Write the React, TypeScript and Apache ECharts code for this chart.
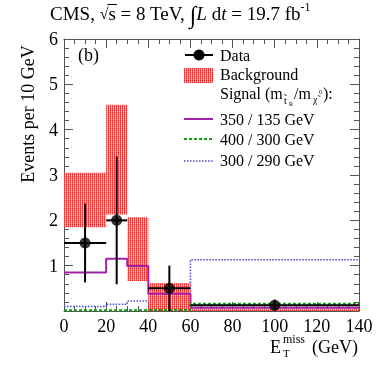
import React, { useEffect, useRef } from "react";
import * as echarts from "echarts";

// Bin edges (GeV) and per-bin values (events per 10 GeV)
const edges = [0, 20, 30, 40, 60, 140];
const bgLow = [1.85, 2.13, 0.66, 0.0, 0.0];
const bgHigh = [3.05, 4.55, 2.07, 0.62, 0.05];
const sig350 = [0.85, 1.15, 0.99, 0.38, 0.07];
const sig400 = [0.015, 0.015, 0.02, 0.025, 0.16];
const sig300 = [0.1, 0.15, 0.22, 0.22, 1.13];

// Data points
const dataX = [10, 25, 50, 100];
const dataY = [1.5, 2.0, 0.5, 0.125];
const dataErr = [0.87, 1.41, 0.5, 0.125];
const dataXLo = [0, 20, 40, 60];
const dataXHi = [20, 30, 60, 140];

const xTicks = { min: 0, max: 140, interval: 20 };
const yTicks = { min: 0, max: 6, interval: 1 };

const FONT = '"Liberation Serif", "DejaVu Serif", serif';

const hatchSvg =
  '<svg xmlns="http://www.w3.org/2000/svg" width="2" height="2" shape-rendering="crispEdges">' +
  '<rect x="0" y="0" width="1" height="1" fill="#ff2a2a"/>' +
  '<rect x="0" y="1" width="1" height="1" fill="#ff4a4a"/>' +
  '<rect x="1" y="0" width="1" height="1" fill="#ff9e9e"/>' +
  '<rect x="1" y="1" width="1" height="1" fill="#ffdcdc"/>' +
  "</svg>";
const hatchUrl = "data:image/svg+xml;charset=utf-8," + encodeURIComponent(hatchSvg);
const hatch: any = { image: hatchUrl, repeat: "repeat", imageWidth: 2, imageHeight: 2 };

function stepData(vals: number[]) {
  const pts: number[][] = vals.map((v, i) => [edges[i], v]);
  pts.push([edges[edges.length - 1], vals[vals.length - 1]]);
  return pts;
}

const axisColor = "#555";

function makeX(position: "bottom" | "top", labels: boolean) {
  return {
    type: "value",
    position,
    ...xTicks,
    axisLine: { show: true, onZero: false, lineStyle: { color: axisColor, width: 1 } },
    axisTick: { show: true, inside: true, length: 9, lineStyle: { color: axisColor } },
    minorTick: { show: true, splitNumber: 4, length: 5, lineStyle: { color: axisColor } },
    splitLine: { show: false },
    axisLabel: labels
      ? { show: true, fontSize: 18, color: "#000", fontFamily: FONT, margin: 6 }
      : { show: false },
  };
}

function makeY(position: "left" | "right", labels: boolean) {
  return {
    type: "value",
    position,
    ...yTicks,
    axisLine: { show: true, onZero: false, lineStyle: { color: axisColor, width: 1 } },
    axisTick: { show: true, inside: true, length: 9, lineStyle: { color: axisColor } },
    minorTick: { show: true, splitNumber: 5, length: 5, lineStyle: { color: axisColor } },
    splitLine: { show: false },
    axisLabel: labels
      ? {
          show: true,
          fontSize: 18,
          color: "#000",
          fontFamily: FONT,
          margin: 6,
          formatter: (v: number) => (v === 0 ? "" : String(v)),
        }
      : { show: false },
  };
}

function measure(text: string, size: number, italic: boolean) {
  const c = document.createElement("canvas").getContext("2d");
  if (!c) return text.length * size * 0.5;
  c.font = (italic ? "italic " : "") + size + "px " + FONT;
  return c.measureText(text).width;
}

export default function App() {
  const ref = useRef<HTMLDivElement>(null);

  useEffect(() => {
    if (!ref.current) return;
    const chart = echarts.init(ref.current, undefined, { renderer: "svg" });

    const bandData = bgLow.map((lo, i) => [edges[i], edges[i + 1], lo, bgHigh[i]]);
    const errData = dataX.map((x, i) => [x, dataY[i], dataXLo[i], dataXHi[i], dataErr[i]]);

    const txt = (x: number, y: number, text: string, size = 16, extra: any = {}) => ({
      type: "text",
      x,
      y,
      style: {
        text,
        fontSize: size,
        fontFamily: FONT,
        fill: "#000",
        verticalAlign: "middle",
        align: "left",
        ...extra,
      },
      z: 100,
    });

    // Title laid out piece by piece
    const TS = 19;
    const titleParts: [string, number, boolean, number][] = [
      ["CMS, ", TS, false, 0],
      ["√", TS - 3, false, 0],
      ["s", TS, false, 0],
      [" = 8 TeV, ", TS, false, 0],
      ["∫", TS + 5, false, 2],
      ["L", TS, true, 0],
      [" d", TS, false, 0],
      ["t", TS, true, 0],
      [" = 19.7 fb", TS, false, 0],
      ["-1", 12, false, -6],
    ];
    const titleEls: any[] = [];
    let cx = 50;
    const ty = 13;
    let sStart = 0;
    let sEnd = 0;
    titleParts.forEach(([t, size, ital, dy]) => {
      titleEls.push(txt(cx, ty + dy, t, size, ital ? { fontStyle: "italic" } : {}));
      const w = measure(t, size, ital);
      if (t === "s") {
        sStart = cx;
        sEnd = cx + w;
      }
      cx += w;
    });
    titleEls.push({
      type: "line",
      shape: { x1: sStart - 1, y1: 4.5, x2: sEnd + 1, y2: 4.5 },
      style: { stroke: "#000", lineWidth: 1 },
      z: 100,
    });

    const option: any = {
      animation: false,
      grid: { left: 64, top: 39, width: 295, height: 272, containLabel: false },
      xAxis: [makeX("bottom", true), makeX("top", false)],
      yAxis: [makeY("left", true), makeY("right", false)],
      series: [
        {
          type: "line",
          step: "end",
          data: stepData(sig300),
          showSymbol: false,
          symbol: "none",
          lineStyle: { color: "#4a4ad0", width: 1.5, type: [1.5, 1.5] },
          z: 1,
        },
        {
          type: "custom",
          data: bandData,
          renderItem: (params: any, api: any) => {
            const p0 = api.coord([api.value(0), api.value(3)]);
            const p1 = api.coord([api.value(1), api.value(2)]);
            return {
              type: "rect",
              shape: { x: p0[0], y: p0[1], width: p1[0] - p0[0], height: p1[1] - p0[1] },
              style: { fill: hatch },
            };
          },
          z: 2,
        },
        {
          type: "line",
          step: "end",
          data: stepData(sig350),
          showSymbol: false,
          symbol: "none",
          lineStyle: { color: "#a020a8", width: 2 },
          z: 3,
        },
        {
          type: "line",
          step: "end",
          data: stepData(sig400),
          showSymbol: false,
          symbol: "none",
          lineStyle: { color: "#10a010", width: 2, type: [3, 2] },
          z: 4,
        },
        {
          type: "custom",
          data: errData,
          renderItem: (params: any, api: any) => {
            const x = api.value(0);
            const y = api.value(1);
            const e = api.value(4);
            const c = api.coord([x, y]);
            const pl = api.coord([api.value(2), y]);
            const ph = api.coord([api.value(3), y]);
            const pt = api.coord([x, y + e]);
            const pb = api.coord([x, Math.max(0, y - e)]);
            const st = { stroke: "#000", lineWidth: 2 };
            return {
              type: "group",
              children: [
                { type: "line", shape: { x1: pl[0], y1: c[1], x2: ph[0], y2: c[1] }, style: st },
                { type: "line", shape: { x1: c[0], y1: pt[1], x2: c[0], y2: pb[1] }, style: st },
              ],
            };
          },
          z: 5,
        },
        {
          type: "scatter",
          data: dataX.map((x, i) => [x, dataY[i]]),
          symbol: "circle",
          symbolSize: 11,
          itemStyle: { color: "#000" },
          z: 6,
        },
      ],
      graphic: [
        ...titleEls,
        txt(78, 55, "(b)", 18),
        // Legend
        { type: "line", shape: { x1: 185, y1: 55, x2: 213, y2: 55 }, style: { stroke: "#000", lineWidth: 2 }, z: 100 },
        { type: "circle", shape: { cx: 199, cy: 55, r: 5.5 }, style: { fill: "#000" }, z: 100 },
        txt(220, 55, "Data"),
        { type: "rect", shape: { x: 184, y: 68, width: 29, height: 15 }, style: { fill: hatch }, z: 100 },
        txt(220, 74, "Background"),
        txt(220, 93, "Signal (m"),
        txt(284, 100, "t̃", 10),
        txt(289, 104, "R", 6),
        txt(294, 93, "/m"),
        txt(313, 99, "χ̃", 10),
        txt(319, 92, "0", 6),
        txt(323, 93, "):"),
        { type: "line", shape: { x1: 184, y1: 119, x2: 213, y2: 119 }, style: { stroke: "#a020a8", lineWidth: 2 }, z: 100 },
        txt(220, 119, "350 / 135 GeV"),
        { type: "line", shape: { x1: 184, y1: 139, x2: 213, y2: 139 }, style: { stroke: "#10a010", lineWidth: 2, lineDash: [3, 2] }, z: 100 },
        txt(220, 139, "400 / 300 GeV"),
        { type: "line", shape: { x1: 184, y1: 161, x2: 213, y2: 161 }, style: { stroke: "#4a4ad0", lineWidth: 1.5, lineDash: [1.5, 1.5] }, z: 100 },
        txt(220, 160, "300 / 290 GeV"),
        // Y axis title
        {
          type: "text",
          x: 28,
          y: 114,
          rotation: Math.PI / 2,
          z: 100,
          style: {
            text: "Events per 10 GeV",
            fontSize: 18,
            fontFamily: FONT,
            fill: "#000",
            align: "center",
            verticalAlign: "middle",
          },
        },
        // X axis title
        txt(270, 347, "E", 18),
        txt(283, 339, "miss", 12),
        txt(283, 353, "T", 11),
        txt(358, 347, "(GeV)", 18, { align: "right" }),
      ],
    };

    chart.setOption(option);
    return () => chart.dispose();
  }, []);

  return (
    <div style={{ position: "fixed", left: 0, top: 0 }}>
      <div ref={ref} style={{ width: 378, height: 367 }} />
    </div>
  );
}
